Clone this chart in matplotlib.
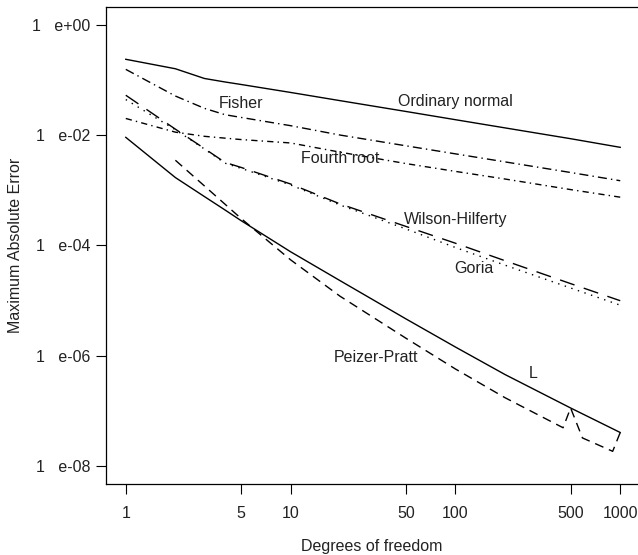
import matplotlib
matplotlib.use("Agg")
import matplotlib.pyplot as plt

plt.rcParams['font.family'] = ['Liberation Sans', 'DejaVu Sans']

# degrees of freedom and maximum absolute error of each approximation
df = [1, 2, 3, 4, 5, 10, 20, 50, 100, 200, 500, 1000]
ordinary_normal = [0.236, 0.159, 0.106, 0.0916, 0.0826, 0.0592, 0.042, 0.0268, 0.019, 0.0135, 0.0086, 0.006]
fisher = [0.155, 0.051, 0.0305, 0.0234, 0.0209, 0.0148, 0.0100, 0.0064, 0.00457, 0.00327, 0.0021, 0.00149]
fourth_root = [0.020, 0.0113, 0.0095, 0.0088, 0.0083, 0.0072, 0.0049, 0.00305, 0.0022, 0.0016, 0.00103, 0.00075]
wilson_hilferty = [0.0527, 0.0128, 0.0057, 0.0032, 0.0026, 0.0013, 5.65e-4, 2.22e-4, 1.1e-4, 5.3e-5, 2.04e-5, 1.0e-5]
goria = [0.0440, 0.0125, 0.0056, 0.0031, 0.0025, 0.00125, 5.4e-4, 2.0e-4, 9.2e-5, 4.4e-5, 1.7e-5, 8.3e-6]
L = [0.0091, 0.0017, 7.7e-4, 4.4e-4, 2.83e-4, 7.7e-5, 2.3e-5, 4.7e-6, 1.45e-6, 4.6e-7, 1.14e-7, 4.1e-8]

df_pp = [2, 3, 4, 5, 10, 20, 50, 100, 200, 450, 500, 590, 900, 1000]
peizer_pratt = [0.0035, 0.0012, 5.6e-4, 3.1e-4, 5.5e-5, 1.2e-5, 2.1e-6, 5.8e-7, 1.75e-7, 5.0e-8, 1.14e-7, 3.27e-8, 1.87e-8, 4.1e-8]

x_ticks = [1, 5, 10, 50, 100, 500, 1000]
y_ticks = [1e0, 1e-2, 1e-4, 1e-6, 1e-8]
y_ticklabels = ["1   e+00", "1   e-02", "1   e-04", "1   e-06", "1   e-08"]

labels = [("Fisher", 5, 0.038), ("Ordinary normal", 100, 0.041), ("Fourth root", 20, 0.0038),
          ("Wilson-Hilferty", 100, 2.9e-4), ("Goria", 130, 3.9e-5),
          ("Peizer-Pratt", 33, 9.5e-7), ("L", 297, 4.75e-7)]

fig = plt.figure(figsize=(6.38, 5.55), dpi=100)
ax = fig.add_axes([106/638, 1 - 484/555, (640 - 106)/638, (484 - 7)/555])

lw = 1.0
ax.plot(df, ordinary_normal, color='black', lw=lw)
ax.plot(df, fisher, color='black', lw=lw, dashes=(6.5, 3, 1, 3))
ax.plot(df, fourth_root, color='black', lw=lw, dashes=(4.5, 3, 1, 3))
ax.plot(df, wilson_hilferty, color='black', lw=lw, dashes=(11, 7))
ax.plot(df, goria, color='black', lw=lw, dashes=(1, 4))
ax.plot(df_pp, peizer_pratt, color='black', lw=lw, dashes=(6.5, 4.3))
ax.plot(df, L, color='black', lw=lw)

for txt, x, y in labels:
    ax.text(x, y, txt, ha='center', va='center', fontsize=11.5, color='#222222')

ax.set_xscale('log')
ax.set_yscale('log')
ax.set_xlim(10**-0.12, 10**3.12)
ax.set_ylim(10**-8.32, 10**0.32)
ax.set_xticks(x_ticks)
ax.set_xticklabels([str(v) for v in x_ticks])
ax.set_yticks(y_ticks)
ax.set_yticklabels(y_ticklabels)
ax.minorticks_off()
ax.tick_params(length=7.2, width=0.8, labelsize=11.5, labelcolor='#222222')
ax.tick_params(axis='x', pad=9)
ax.tick_params(axis='y', pad=4.3)
for s in ax.spines.values():
    s.set_linewidth(0.9)

ax.set_xlabel("Degrees of freedom", fontsize=11.5, color='#222222')
ax.set_ylabel("Maximum Absolute Error", fontsize=11.5, color='#222222')
ax.xaxis.set_label_coords((372 - 106)/534, (484 - 545)/477 + 0.012)
ax.yaxis.set_label_coords((23 - 106)/534, 0.5)

fig.savefig("out.png", dpi=100)
